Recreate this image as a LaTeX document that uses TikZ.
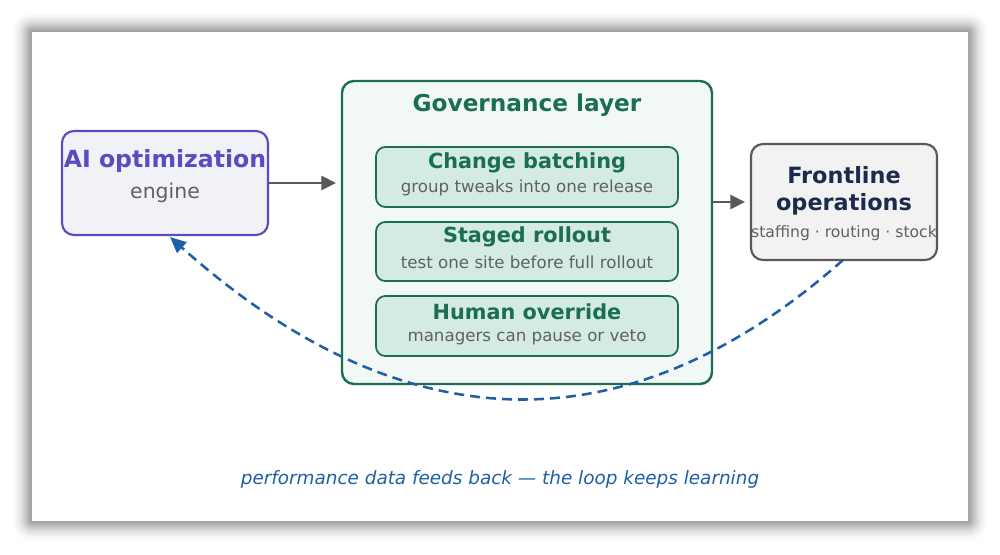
\documentclass[tikz,border=0pt]{standalone}
\usepackage{fontspec}
\setmainfont{DejaVu Sans}
\usetikzlibrary{arrows.meta}
\definecolor{purp}{HTML}{5A4BBE}
\definecolor{purpfill}{HTML}{F1F1F8}
\definecolor{grn}{HTML}{1B6E50}
\definecolor{grnfill}{HTML}{F1F8F5}
\definecolor{grninner}{HTML}{D3EBE2}
\definecolor{greyline}{HTML}{595959}
\definecolor{greytext}{HTML}{606060}
\definecolor{navy}{HTML}{1A2B4C}
\definecolor{loopblue}{HTML}{1F5FA6}
\tikzset{
  box/.style={rounded corners=9pt, line width=1.6pt},
  ttl/.style={font=\fontsize{17.4}{20}\selectfont\bfseries},
  ittl/.style={font=\fontsize{15.6}{18}\selectfont\bfseries, text=grn},
  sub/.style={font=\fontsize{12.5}{15}\selectfont, text=greytext},
  inner/.style={box, rounded corners=7pt, draw=grn, fill=grninner, line width=1.3pt},
  flow/.style={draw=greyline, line width=2.2pt, -{Stealth[length=11pt,width=10.5pt,inset=0pt]}},
}
\begin{document}
\begin{tikzpicture}[x=0.75pt,y=-0.75pt]
\useasboundingbox (0,0) rectangle (1000,554);
\fill[white] (0,0) rectangle (1000,554);
% card shadow
\foreach \i in {1,...,22}{
  \pgfmathsetmacro{\op}{0.036*(1-\i/23)}
  \fill[black, opacity=\op, rounded corners=\i*0.75pt] (32-\i,32-\i) rectangle (968+\i,521+\i);
}
\node[fill=white, minimum width=702pt, minimum height=366.75pt, inner sep=0pt] (card) at (500,276.5) {};
% AI box
\draw[box, draw=purp, fill=purpfill] (62,131) rectangle (268,235);
\node[font=\fontsize{17.7}{20}\selectfont\bfseries, text=purp] (ai) at (165,161) {AI optimization};
\node[font=\fontsize{15.3}{18}\selectfont, text=greytext] (aisub) at (165,193) {engine};
\coordinate (aiR) at (268,183);
\coordinate (aiB) at (170,237);
% governance
\draw[box, draw=grn, fill=grnfill, line width=1.8pt] (342,81) rectangle (712,384);
\node[ttl, text=grn] (gov) at (527,105) {Governance layer};
\coordinate (govL) at (336,183);
\coordinate (govR) at (712,202);
% inner
\draw[inner] (376,147) rectangle (678,207);
\node[ittl] (b1) at (527,163) {Change batching};
\node[sub] (b1s) at (527,188) {group tweaks into one release};
\draw[inner] (376,222) rectangle (678,281);
\node[ittl] (b2) at (527,237) {Staged rollout};
\node[sub] (b2s) at (527,262) {test one site before full rollout};
\draw[inner] (376,296) rectangle (678,356);
\node[ittl] (b3) at (527,312) {Human override};
\node[sub] (b3s) at (527,337) {managers can pause or veto};
% frontline
\draw[box, draw=greyline, fill=black!5] (751,144) rectangle (937,260);
\node[text=navy, align=center, font=\fontsize{16.8}{20.5}\selectfont\bfseries] (fl) at (844,191) {Frontline\\operations};
\node[sub, font=\fontsize{11.7}{14}\selectfont] (fls) at (844,233) {staffing · routing · stock};
\coordinate (flL) at (745,202);
\coordinate (flB) at (843,260);
% arrows
\draw[flow] (aiR) -- (govL);
\draw[flow] (govR) -- (flL);
\draw[draw=loopblue, line width=1.9pt, dash pattern=on 7.5pt off 4.5pt,
  -{Stealth[length=12pt,width=10.5pt,inset=0pt]}]
  (flB) .. controls (626,452) and (402,444) .. (aiB);
% caption
\node[font=\fontsize{13.8}{16}\selectfont\itshape, text=loopblue] (cap) at (500,479) {performance data feeds back — the loop keeps learning};
\end{tikzpicture}
\end{document}
